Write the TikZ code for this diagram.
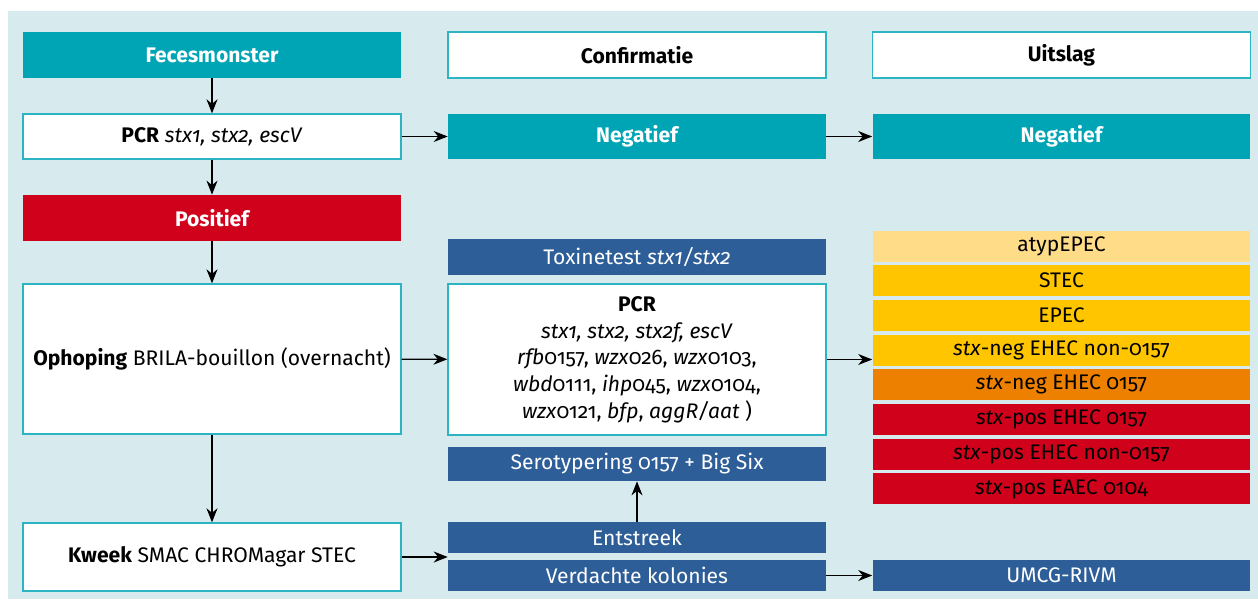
\documentclass[tikz,border=0pt]{standalone}
\usepackage{fontspec}
\setmainfont{Fira Sans}[Numbers=OldStyle]
\usetikzlibrary{arrows.meta, positioning}
\definecolor{rivmback}{RGB}{215,234,238}
\definecolor{rivmteal}{RGB}{0,165,181}
\definecolor{rivmedge}{RGB}{45,180,195}
\definecolor{rivmred}{RGB}{208,2,27}
\definecolor{rivmblue}{RGB}{46,94,152}
\definecolor{rivmpale}{RGB}{255,221,136}
\definecolor{rivmyellow}{RGB}{255,198,0}
\definecolor{rivmorange}{RGB}{238,128,0}

\tikzset{
  cell/.style={rectangle, minimum width=7.56cm, inner sep=0pt, align=center,
    font=\fontsize{12}{15.2}\selectfont},
  whitecell/.style={cell, fill=white, draw=rivmedge, line width=0.8pt},
  tealcell/.style={cell, fill=rivmteal, text=white, font=\fontsize{12}{15.2}\selectfont\bfseries},
  redcell/.style={cell, fill=rivmred, text=white, font=\fontsize{12}{15.2}\selectfont\bfseries},
  bluecell/.style={cell, fill=rivmblue, text=white},
  result/.style={cell, minimum height=0.62cm, text=black},
  flow/.style={-{Stealth[length=2.8mm, width=2.2mm, inset=0.9mm]}, line width=0.6pt, black}
}

\begin{document}
\begin{tikzpicture}[x=0.02cm, y=-0.02cm]
    \useasboundingbox (0,0) rectangle (1258,599);
    \fill[rivmback] (8,11) rectangle (1258,599);

    % linker kolom
    \node[tealcell, minimum height=0.92cm] (fec) at (212,55) {Fecesmonster};
    \node[whitecell, minimum height=0.9cm] (pcr) at (212,136.5) {\textbf{PCR} \textit{stx1, stx2, escV}};
    \node[redcell, minimum height=0.92cm] (pos) at (212,218) {Positief};
    \node[whitecell, minimum height=3.0cm] (oph) at (212,359) {\textbf{Ophoping} BRILA-bouillon (overnacht)};
    \node[whitecell, minimum height=1.36cm] (kweek) at (212,557) {\textbf{Kweek} SMAC CHROMagar STEC};

    % confirmatie
    \node[whitecell, minimum height=0.92cm, font=\fontsize{12}{15.2}\selectfont\bfseries] (conf) at (637,55) {Confirmatie};
    \node[tealcell, minimum height=0.9cm] (neg1) at (637,136.5) {Negatief};
    \node[bluecell, minimum height=0.72cm] (tox) at (637,257) {Toxinetest \textit{stx1/stx2}};
    \node[whitecell, minimum height=3.02cm] (pcr2) at (637,359.5) {\textbf{PCR}\\
      \textit{stx1, stx2, stx2f, escV}\\
      \textit{rfb}0157, \textit{wzx}026, \textit{wzx}0103,\\
      \textit{wbd}0111, \textit{ihp}045, \textit{wzx}0104,\\
      \textit{wzx}0121, \textit{bfp}, \textit{aggR/aat} )};
    \node[bluecell, minimum height=0.68cm] (sero) at (637,464) {Serotypering 0157 + Big Six};
    \node[bluecell, minimum height=0.62cm] (ent) at (637,537.5) {Entstreek};
    \node[bluecell, minimum height=0.62cm] (verd) at (637,575.5) {Verdachte kolonies};

    % uitslag
    \node[whitecell, minimum height=0.92cm, font=\fontsize{12}{15.2}\selectfont\bfseries] (uits) at (1061.5,55) {Uitslag};
    \node[tealcell, minimum height=0.9cm] (neg2) at (1061.5,136.5) {Negatief};
    \node[result, fill=rivmpale] (r1) at (1061.5,246) {atypEPEC};
    \node[result, fill=rivmyellow, below=0.06cm of r1] (r2) {STEC};
    \node[result, fill=rivmyellow, below=0.06cm of r2] (r3) {EPEC};
    \node[result, fill=rivmyellow, below=0.06cm of r3] (r4) {\textit{stx}-neg EHEC non-0157};
    \node[result, fill=rivmorange, below=0.06cm of r4] (r5) {\textit{stx}-neg EHEC 0157};
    \node[result, fill=rivmred, below=0.06cm of r5] (r6) {\textit{stx}-pos EHEC 0157};
    \node[result, fill=rivmred, below=0.06cm of r6] (r7) {\textit{stx}-pos EHEC non-0157};
    \node[result, fill=rivmred, below=0.06cm of r7] (r8) {\textit{stx}-pos EAEC 0104};
    \node[bluecell, minimum height=0.62cm] (umcg) at (1061.5,575.5) {UMCG-RIVM};

    % pijlen
    \draw[flow] (fec) -- (pcr);
    \draw[flow] (pcr) -- (pos);
    \draw[flow] (pos) -- (oph);
    \draw[flow] (oph) -- (kweek);
    \draw[flow] (pcr) -- (neg1);
    \draw[flow] (neg1) -- (neg2);
    \draw[flow] (oph) -- (pcr2);
    \draw[flow] (pcr2.east) -- (pcr2.east -| r4.west);
    \draw[flow] (kweek.east) -- (kweek.east -| verd.west);
    \draw[flow] (ent) -- (sero);
    \draw[flow] (verd) -- (umcg);
\end{tikzpicture}
\end{document}
